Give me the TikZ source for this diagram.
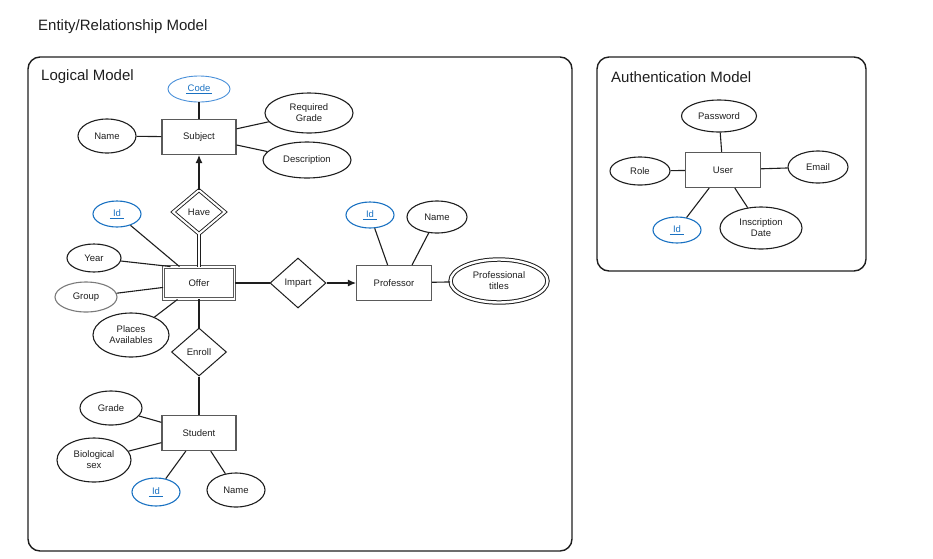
\documentclass[tikz,border=0pt]{standalone}
\usepackage{fontspec}
\setmainfont{Liberation Sans}
\usetikzlibrary{shapes.geometric,arrows.meta}
\definecolor{ink}{HTML}{1E1E1E}
\definecolor{idblue}{HTML}{1971C2}
\definecolor{lightblue}{HTML}{4A90D9}
\definecolor{rectgray}{HTML}{5A5A5A}
\definecolor{groupgray}{HTML}{7A7A7A}
\begin{document}
\begin{tikzpicture}[x=1pt,y=-1pt,
  attr/.style={ellipse,draw=ink,line width=1.1pt,inner sep=0pt,align=center,
    font=\fontsize{9.5}{11}\selectfont,text=ink},
  keyattr/.style={attr,draw=idblue,text=idblue},
  ent/.style={rectangle,draw=rectgray,line width=1.1pt,minimum width=74pt,
    minimum height=35pt,inner sep=0pt,font=\fontsize{9.5}{11}\selectfont,text=ink},
  rel/.style={diamond,draw=ink,line width=1pt,inner sep=0pt,
    font=\fontsize{9.5}{11}\selectfont,text=ink},
  conn/.style={draw=ink,line width=1.1pt},
  tip/.style={-{Latex[length=8pt,width=7pt]}},
  frame/.style={draw=ink,line width=1.4pt,rounded corners=12pt},
  ttl/.style={anchor=west,inner sep=0pt,font=\fontsize{15}{17}\selectfont,text=ink}]
\useasboundingbox (0,0) rectangle (933,558);

% frames and titles
\draw[frame] (28,57) rectangle (572,551);
\draw[frame] (597,57) rectangle (866,271);
\node[ttl] (title) at (38,27) {Entity/Relationship Model};
\node[ttl] (logt) at (41,77) {Logical Model};
\node[ttl] (autht) at (611,77) {Authentication Model};

% Subject area
\node[ent] (subject) at (199,137) {Subject};
\node[keyattr,draw=lightblue,line width=0.9pt,minimum width=62pt,minimum height=26pt] (code) at (199,89) {\underline{\,Code\,}};
\node[attr,minimum width=58pt,minimum height=34pt] (sname) at (107,136) {Name};
\node[attr,minimum width=88pt,minimum height=40pt] (reqgrade) at (309,113) {Required\\Grade};
\node[attr,minimum width=88pt,minimum height=36pt] (desc) at (307,160) {Description};

% Have relationship
\node[rel,double,double distance=2pt,line width=0.9pt,minimum width=52pt,minimum height=44pt] (have) at (199,212) {Have};

% Offer area
\node[ent,double,double distance=1.8pt,line width=0.9pt,minimum width=71pt,minimum height=32pt] (offer) at (199,283) {Offer};
\node[keyattr,minimum width=48pt,minimum height=26pt] (oid) at (117,214) {\underline{\,\,Id\,\,}};
\node[attr,minimum width=54pt,minimum height=28pt] (year) at (94,258) {Year};
\node[attr,draw=groupgray,minimum width=62pt,minimum height=30pt] (group) at (86,297) {Group};
\node[attr,minimum width=76pt,minimum height=44pt] (places) at (131,335) {Places\\Availables};

% Impart and Professor
\node[rel,minimum width=56pt,minimum height=50pt] (impart) at (298,283) {Impart};
\node[ent,minimum width=75pt] (prof) at (394,283) {Professor};
\node[keyattr,minimum width=48pt,minimum height=26pt] (pid) at (370,215) {\underline{\,\,Id\,\,}};
\node[attr,minimum width=60pt,minimum height=32pt] (pname) at (437,217) {Name};
\node[attr,double,double distance=2.4pt,line width=1pt,minimum width=97pt,minimum height=43pt] (ptitles) at (499,281) {Professional\\titles};

% Enroll and Student
\node[rel,minimum width=55pt,minimum height=48pt] (enroll) at (199,352) {Enroll};
\node[ent] (student) at (199,433) {Student};
\node[attr,minimum width=62pt,minimum height=34pt] (grade) at (111,408) {Grade};
\node[attr,minimum width=74pt,minimum height=44pt] (biosex) at (94,460) {Biological\\sex};
\node[keyattr,minimum width=48pt,minimum height=28pt] (sid) at (156,492) {\underline{\,\,Id\,\,}};
\node[attr,minimum width=58pt,minimum height=34pt] (stname) at (236,490) {Name};

% Authentication model
\node[ent,minimum width=75pt] (user) at (723,170) {User};
\node[attr,minimum width=75pt,minimum height=32pt] (password) at (719,116) {Password};
\node[attr,minimum width=60pt,minimum height=28pt] (role) at (640,171) {Role};
\node[attr,minimum width=60pt,minimum height=32pt] (email) at (818,167) {Email};
\node[keyattr,minimum width=48pt,minimum height=26pt] (uid) at (677,230) {\underline{\,\,Id\,\,}};
\node[attr,minimum width=82pt,minimum height=42pt] (insdate) at (761,228) {Inscription\\Date};

% connectors: logical model
\draw[conn] (code) -- (subject);
\draw[conn] (sname) -- (subject);
\draw[conn] (reqgrade) -- (subject);
\draw[conn] (desc) -- (subject);
\draw[conn,tip] (have) -- (subject);
\draw[conn,double,double distance=2pt,line width=0.9pt] (have) -- (offer);
\draw[conn] (oid) -- (offer);
\draw[conn] (year) -- (offer.150);
\draw[conn] (group) -- (offer);
\draw[conn] (places) -- (offer);
\draw[conn] (offer) -- (enroll);
\draw[conn] (offer) -- (impart);
\draw[conn,tip] (impart) -- (prof);
\draw[conn] (pid) -- (prof);
\draw[conn] (pname) -- (prof.45);
\draw[conn] (prof) -- (ptitles);
\draw[conn] (enroll) -- (student);
\draw[conn] (grade) -- (student);
\draw[conn] (biosex) -- (student);
\draw[conn] (sid) -- (student);
\draw[conn] (stname) -- (student);

% connectors: authentication model
\draw[conn] (password) -- (user);
\draw[conn] (role) -- (user);
\draw[conn] (email) -- (user);
\draw[conn] (uid) -- (user);
\draw[conn] (insdate) -- (user);
\end{tikzpicture}
\end{document}
